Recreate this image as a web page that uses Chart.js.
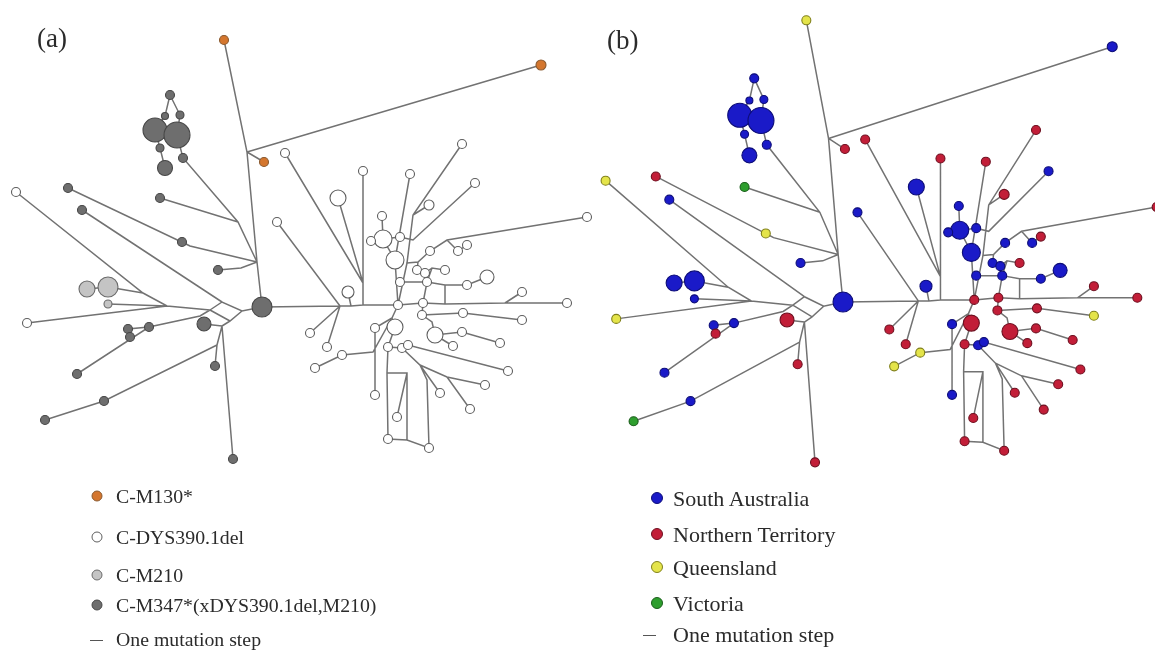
<!DOCTYPE html>
<html><head><meta charset="utf-8">
<script src="https://cdn.jsdelivr.net/npm/chart.js@4"></script>
<style>
html,body{margin:0;padding:0;background:#fff;width:1155px;height:657px;overflow:hidden;}
#wrap{position:relative;width:1155px;height:657px;}
#wrap canvas{position:absolute;left:0;top:0;}
.lbl{position:absolute;font-family:"Liberation Serif","Times New Roman",serif;color:#2b2b2b;white-space:nowrap;line-height:1;transform:translateY(-50%);}
.dot{position:absolute;border-radius:50%;box-sizing:border-box;transform:translate(-50%,-50%);}
.dash{position:absolute;height:1.4px;background:#555;}
</style></head><body>
<div id="wrap">
<canvas id="cA" width="1155" height="657"></canvas>
<canvas id="cB" width="1155" height="657"></canvas>
</div>
<script>
// ---------- haplotype nodes (positions) ----------
const nodeIds = ['C','T1','R1','O2','K1','K2','K3','K4','K5','K6','K7','K8',
 'L1','L2','L3','L4','L5','L6','M1','M2','M3','L7','D1','D2','D3','D4','D5','D6','D7','D8','D9',
 'W1','W2','W3','W4','W5','W6','W7','W8','W9','W10','W11','W12','W13','W14','W15','W16','W17','W18','W19','W20',
 'W21','W22','W23','W24','W25','W26','W27','W28','W29','W30','W31','W32','W33','W34','W35','W36','W37','W38','W39','W40',
 'W41','W42','W43','W44','W45','W46','W47','W48','W49','W50','W51','W52','W53'];
const nodeX = [262,224,541,264,170,165,180,155,177,160,183,165,
 16,68,82,160,182,218,87,108,108,27,128,130,149,204,215,77,104,45,233,
 285,277,338,363,410,462,475,429,382,383,371,400,395,587,430,458,467,445,417,425,
 487,467,400,427,522,567,348,398,423,422,463,522,310,327,342,315,375,395,435,462,
 453,500,388,402,408,508,485,440,470,375,397,388,429];
const nodeY = [307,40,65,162,95,116,115,130,135,148,158,168,
 192,188,210,198,242,270,289,287,304,323,329,337,327,324,366,374,401,420,459,
 153,222,198,171,174,144,183,205,216,239,241,237,260,217,251,251,245,270,270,273,
 277,285,282,282,292,303,292,305,303,315,313,320,333,347,355,368,328,327,335,332,
 346,343,347,348,345,371,385,393,409,395,417,439,448];
const nodeSize = [10,4.5,5,4.5,4.5,3.5,4,12,13,4,4.5,7.5,
 4.5,4.5,4.5,4.5,4.5,4.5,8,10,4,4.5,4.5,4.5,4.5,7,4.5,4.5,4.5,4.5,4.5,
 4.5,4.5,8,4.5,4.5,4.5,4.5,5,4.5,9,4.5,4.5,9,4.5,4.5,4.5,4.5,4.5,4.5,4.5,
 7,4.5,4.5,4.5,4.5,4.5,6,4.5,4.5,4.5,4.5,4.5,4.5,4.5,4.5,4.5,4.5,8,8,4.5,
 4.5,4.5,4.5,4.5,4.5,4.5,4.5,4.5,4.5,4.5,4.5,4.5,4.5];
// lineage (panel a): o=C-M130*, w=C-DYS390.1del, l=C-M210, d=C-M347*
const lineageA = ['d','o','o','o','d','d','d','d','d','d','d','d',
 'w','d','d','d','d','d','l','l','l','w','d','d','d','d','d','d','d','d','d',
 'w','w','w','w','w','w','w','w','w','w','w','w','w','w','w','w','w','w','w','w',
 'w','w','w','w','w','w','w','w','w','w','w','w','w','w','w','w','w','w','w','w',
 'w','w','w','w','w','w','w','w','w','w','w','w','w'];
// region (panel b): S=South Australia, N=Northern Territory, Q=Queensland, V=Victoria
const regionB = ['S','Q','S','N','S','S','S','S','S','S','S','S',
 'Q','N','S','V','Q','S','S','S','S','Q','S','N','S','N','N','S','S','V','N',
 'N','S','S','N','N','N','S','N','S','S','S','S','S','N','S','S','N','N','S','S',
 'S','S','S','S','N','N','S','N','N','N','N','Q','N','N','Q','Q','S','N','N','N',
 'N','N','N','S','S','N','N','N','N','S','N','N','N'];

// ---------- median vectors (unsampled junctions) ----------
const junctionIds = ['J1','J2','J3','J4','J5','J6','J7','J8','J9','J10','J11','J12','J13','J14',
 'MA','MB','MC','MF','MG','JA','JB','JC','JE','JF','JG','JH','JJ','JK','JL','JM','JN','JO','JP','JQ','JS','JT'];
const junctionX = [247,257,238,190,241,167,143,210,222,242,230,200,222,217,
 340,351,363,445,505,363,413,407,413,447,418,432,445,392,373,407,407,387,427,432,447,420];
const junctionY = [152,262,222,246,268,306,293,310,302,311,321,316,326,345,
 306,306,305,304,303,283,215,263,240,240,262,268,285,318,352,440,373,373,380,322,377,365];

// ---------- links (each chain = connected mutation steps) ----------
const links = [
 ['T1','J1','J2','C'],['J1','R1'],['J1','O2'],
 ['K1','K2','K4','K6','K8'],['K1','K3','K5','K7','J3','J2'],['L4','J3'],
 ['L2','J4','J2'],['L5','J4'],['L6','J5','J2'],['L3','J9'],
 ['L1','J7','J6','J8'],['M2','J7'],['M1','M2'],['M3','J6'],['L7','J6'],
 ['J8','J9','J10','C'],['J8','J11','J10'],['D6','D3','J12','J8'],['D2','D1','D3'],
 ['J11','J13'],['D4','J13'],['J13','J14','D5'],['J14','D7','D8'],['J13','D9'],
 ['C','MA','MB','MC','W28','W29','MF','MG','W26'],
 ['W1','JA'],['W3','JA'],['W4','JA','MC'],['W2','MA'],['W27','MB'],
 ['W5','W13'],['W6','JB','JC','W28'],['W8','JB'],['W7','JE','W12'],
 ['W9','W10','W13','W28'],['W11','W10'],['W12','W10'],
 ['W14','JF','W15','JG','JC'],['W16','JF'],['W17','W16'],
 ['W18','JH','W24','W29'],['W19','JG'],['W20','JH'],['W23','W24'],
 ['W21','W22','JJ','MF'],['JJ','W24'],['W25','MG'],
 ['W28','JK','W38'],['JK','W37','W50'],['MA','W33'],['MA','W34'],['W36','W35','JL','JK'],
 ['W38','W43','JO','W52','JM','W53','JP','JT'],['JO','JN','JM'],['W51','JN'],
 ['W29','W30','JQ','W39','W40','W42'],['W41','W39'],['W30','W31','W32'],
 ['W43','W44','W45','W46'],['W44','JT','JS','W47'],['JS','W49'],['JT','W48']
];

// ---------- legends ----------
const legendA = ['C-M130*','C-DYS390.1del','C-M210','C-M347*(xDYS390.1del,M210)'];
const legendAKeys = ['o','w','l','d'];
const legendB = ['South Australia','Northern Territory','Queensland','Victoria'];
const legendBKeys = ['S','N','Q','V'];
const stepLabel = 'One mutation step';

// ---------- styles ----------
const fillA = {o:'#d4762e', w:'#ffffff', l:'#c4c4c4', d:'#6e6e6e'};
const edgeA = {o:'#8a5a30', w:'#5e5e5e', l:'#6a6a6a', d:'#474747'};
const fillB = {S:'#1a1ac8', N:'#c21e38', Q:'#e4e44a', V:'#2e9e2e'};
const edgeB = {S:'#0d0d78', N:'#6e1020', Q:'#80801a', V:'#1b5e1b'};

// ---------- build ----------
const pos = {};
nodeIds.forEach((id,i)=>pos[id]=[nodeX[i],nodeY[i]]);
junctionIds.forEach((id,i)=>pos[id]=[junctionX[i],junctionY[i]]);

function edgePoints(){
  const out=[];
  links.forEach(ch=>{
    ch.forEach(id=>out.push({x:pos[id][0],y:pos[id][1]}));
    out.push({x:pos[ch[ch.length-1]][0],y:null});
  });
  return out;
}

function makeChart(canvasId, keys, fills, strokes, xr, yr){
  const pts = nodeIds.map((id,i)=>({x:nodeX[i],y:nodeY[i]}));
  return new Chart(document.getElementById(canvasId),{
    type:'scatter',
    data:{datasets:[
      {label:'nodes',data:pts,order:0,clip:false,pointStyle:'circle',
       pointRadius:nodeSize,pointHoverRadius:nodeSize,
       backgroundColor:keys.map(k=>fills[k]),borderColor:keys.map(k=>strokes[k]),
       borderWidth:1.1,showLine:false},
      {label:'links',data:edgePoints(),order:1,clip:false,showLine:true,spanGaps:false,
       pointRadius:0,borderColor:'#727272',borderWidth:1.5,tension:0,fill:false}
    ]},
    options:{responsive:false,animation:false,events:[],
      layout:{padding:0,autoPadding:false},
      plugins:{legend:{display:false},tooltip:{enabled:false}},
      scales:{
        x:{type:'linear',display:false,min:xr[0],max:xr[1]},
        y:{type:'linear',display:false,min:yr[0],max:yr[1],reverse:true}
      }}
  });
}

const W=1155,H=657;
makeChart('cA', lineageA, fillA, edgeA, [0,W], [0,H]);
// panel b: same network redrawn, anchored on centre node at (843,302), scaled
const bAnchor=[843,302], bScale=[0.965,1.055], aAnchor=[262,307];
const bx0 = aAnchor[0]-bAnchor[0]/bScale[0], by0 = aAnchor[1]-bAnchor[1]/bScale[1];
makeChart('cB', regionB, fillB, edgeB, [bx0,bx0+W/bScale[0]], [by0,by0+H/bScale[1]]);

// ---------- text ----------
const wrap=document.getElementById('wrap');
function addText(t,x,y,size){const d=document.createElement('div');d.className='lbl';d.textContent=t;d.style.left=x+'px';d.style.top=y+'px';d.style.fontSize=size+'px';wrap.appendChild(d);return d;}
function addDot(x,y,dmt,fill,stroke){const d=document.createElement('div');d.className='dot';d.style.left=x+'px';d.style.top=y+'px';d.style.width=dmt+'px';d.style.height=dmt+'px';d.style.background=fill;d.style.border='1.2px solid '+stroke;wrap.appendChild(d);}
function addDash(x,y,w){const d=document.createElement('div');d.className='dash';d.style.left=x+'px';d.style.top=y+'px';d.style.width=w+'px';wrap.appendChild(d);}

addText('(a)',37,38,27);
addText('(b)',607,40,27);

const aRows=[497,538,576,606];
legendA.forEach((t,i)=>{addDot(97,aRows[i]-1,11,fillA[legendAKeys[i]],edgeA[legendAKeys[i]]);addText(t,116,aRows[i],19.8);});
addDash(90,640,13);addText(stepLabel,116,640,19.8);

const bRows=[499,535,568,604];
legendB.forEach((t,i)=>{addDot(657,bRows[i]-1,12,fillB[legendBKeys[i]],edgeB[legendBKeys[i]]);addText(t,673,bRows[i],22);});
addDash(643,635,13);addText(stepLabel,673,635,22);
</script>
</body></html>
